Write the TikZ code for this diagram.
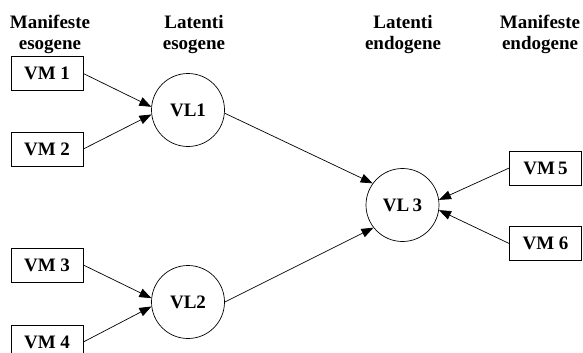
\documentclass[tikz,border=0pt]{standalone}
\usepackage{fontspec}
\setmainfont{Liberation Serif}
\usetikzlibrary{arrows.meta}
\begin{document}
\begin{tikzpicture}[x=1pt,y=-1pt,
  txt/.style={font=\fontsize{19}{21}\selectfont\bfseries},
  manifest/.style={txt, draw, line width=0.7pt, minimum width=72pt, minimum height=34pt, inner sep=0pt},
  latent/.style={txt, draw, circle, line width=0.7pt, minimum size=73pt, inner sep=0pt},
  header/.style={txt, align=center, inner sep=0pt, anchor=base},
  link/.style={line width=0.7pt, -{Triangle[length=12pt,width=9pt]}}]
\useasboundingbox (0,0) rectangle (583,353);
\clip (0,0) rectangle (583,353);

% column headings (anchored on the baseline of the second line)
\node[header] (h1) at (50,50) {Manifeste\\esogene};
\node[header] (h2) at (194,50) {Latenti\\esogene};
\node[header] (h3) at (403,50) {Latenti\\endogene};
\node[header] (h4) at (540,50) {Manifeste\\endogene};

% manifest variables
\node[manifest] (vm1) at (47,73.5) {VM 1};
\node[manifest] (vm2) at (47,149) {VM 2};
\node[manifest] (vm3) at (47,265) {VM 3};
\node[manifest] (vm4) at (47,342) {VM 4};
\node[manifest] (vm5) at (545.5,168) {VM\,5};
\node[manifest] (vm6) at (545.5,243.5) {VM 6};

% latent variables
\node[latent] (vl1) at (188,110) {VL1};
\node[latent] (vl2) at (188,302) {VL2};
\node[latent] (vl3) at (402.5,205) {VL\,3};

% paths
\draw[link] (vm1.east) -- (vl1.175);
\draw[link] (vm2.east) -- (vl1.187);
\draw[link] (vm3.east) -- (vl2.174);
\draw[link] (vm4.east) -- (vl2.187);
\draw[link] (vl1.355) -- (vl3.144);
\draw[link] (vl2.0) -- (vl3.218);
\draw[link] (vm5.west) -- (vl3.8);
\draw[link] (vm6.west) -- (vl3.352);
\end{tikzpicture}
\end{document}
